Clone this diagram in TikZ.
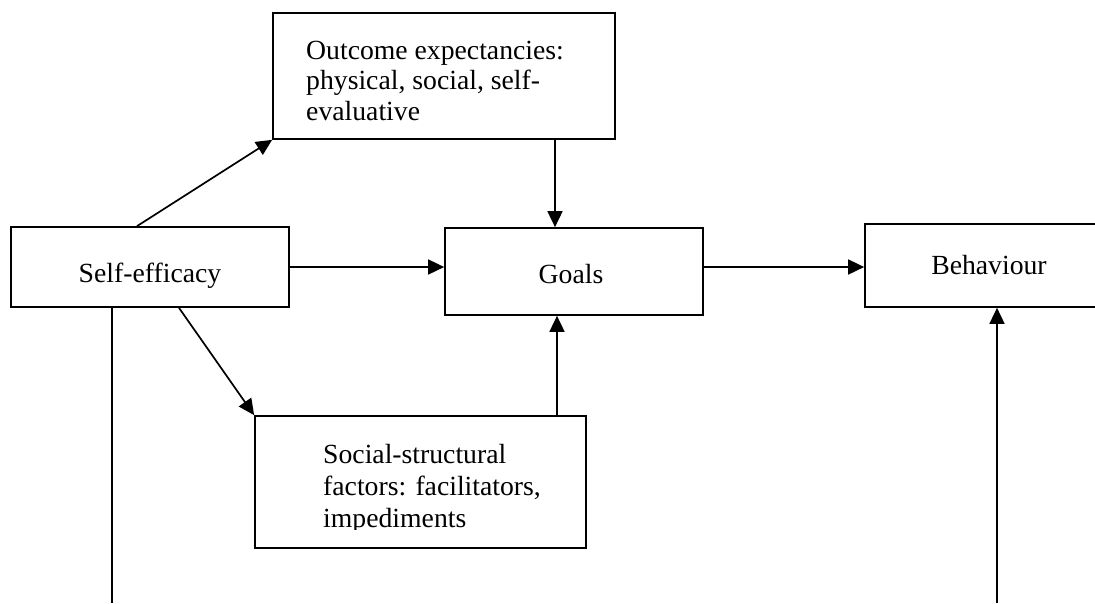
\documentclass[tikz,border=0pt]{standalone}
\usepackage{fontspec}
\setmainfont{Liberation Serif}
\usetikzlibrary{arrows.meta,calc}
\tikzset{
  box/.style={draw, line width=1.7pt, inner sep=0pt, minimum width=#1},
  lbl/.style={inner sep=0pt, anchor=base west, font=\fontsize{27.7}{31}\selectfont},
  conn/.style={line width=1.7pt},
  arr/.style={conn, -{Triangle[length=16pt,width=15pt]}}
}
\begin{document}
\begin{tikzpicture}[x=1pt,y=-1pt]
\useasboundingbox (0,0) rectangle (1095,603);
\fill[white] (0,0) rectangle (1095,603);
\clip (0,0) rectangle (1095,603);
% boxes
\node[box=342pt, minimum height=126pt] (outcome) at (444,76) {};
\node[box=278pt, minimum height=80pt] (self) at (150,267) {};
\node[box=258pt, minimum height=87pt] (goals) at (574,271.5) {};
\node[box=248pt, minimum height=83pt] (behav) at (989,265.5) {};
\node[box=331pt, minimum height=132pt] (social) at (420.5,482) {};
% texts
\node[lbl] (outcomeT) at (306,59) {\parbox[t]{300pt}{\fontsize{27.7}{30.7}\selectfont\raggedright Outcome expectancies:\\ physical, social, self-\\ evaluative}};
\node[lbl, anchor=base] (selfT) at (150,282) {Self-efficacy};
\node[lbl, anchor=base] (goalsT) at (571,283) {Goals};
\node[lbl, anchor=base] (behavT) at (989,274) {Behaviour};
\begin{scope}
\clip (255,416) rectangle (586,529.5);
\node[lbl] (socialT) at (323,463) {\parbox[t]{260pt}{\fontsize{27.7}{32}\selectfont\raggedright Social-structural\\ factors: facilitators,\\ impediments}};
\end{scope}
% free ends
\coordinate (selfEnd) at (112,603);
\coordinate (behavStart) at (997,603);
% connectors
\draw[arr] ([xshift=-13pt]self.north) -- (outcome.south west);
\draw[arr] ([xshift=29pt]self.south) -- (social.north west);
\draw[arr] (self.east) -- (goals.west |- self.east);
\draw[arr] (goals.east |- self.east) -- (behav.west |- self.east);
\draw[arr] ([xshift=-19pt]goals.north |- outcome.south) -- ([xshift=-19pt]goals.north);
\draw[arr] ([xshift=-17pt]goals.south |- social.north) -- ([xshift=-17pt]goals.south);
\draw[conn] (self.south -| selfEnd) -- (selfEnd);
\draw[arr] (behavStart) -- (behav.south -| behavStart);
\end{tikzpicture}
\end{document}
